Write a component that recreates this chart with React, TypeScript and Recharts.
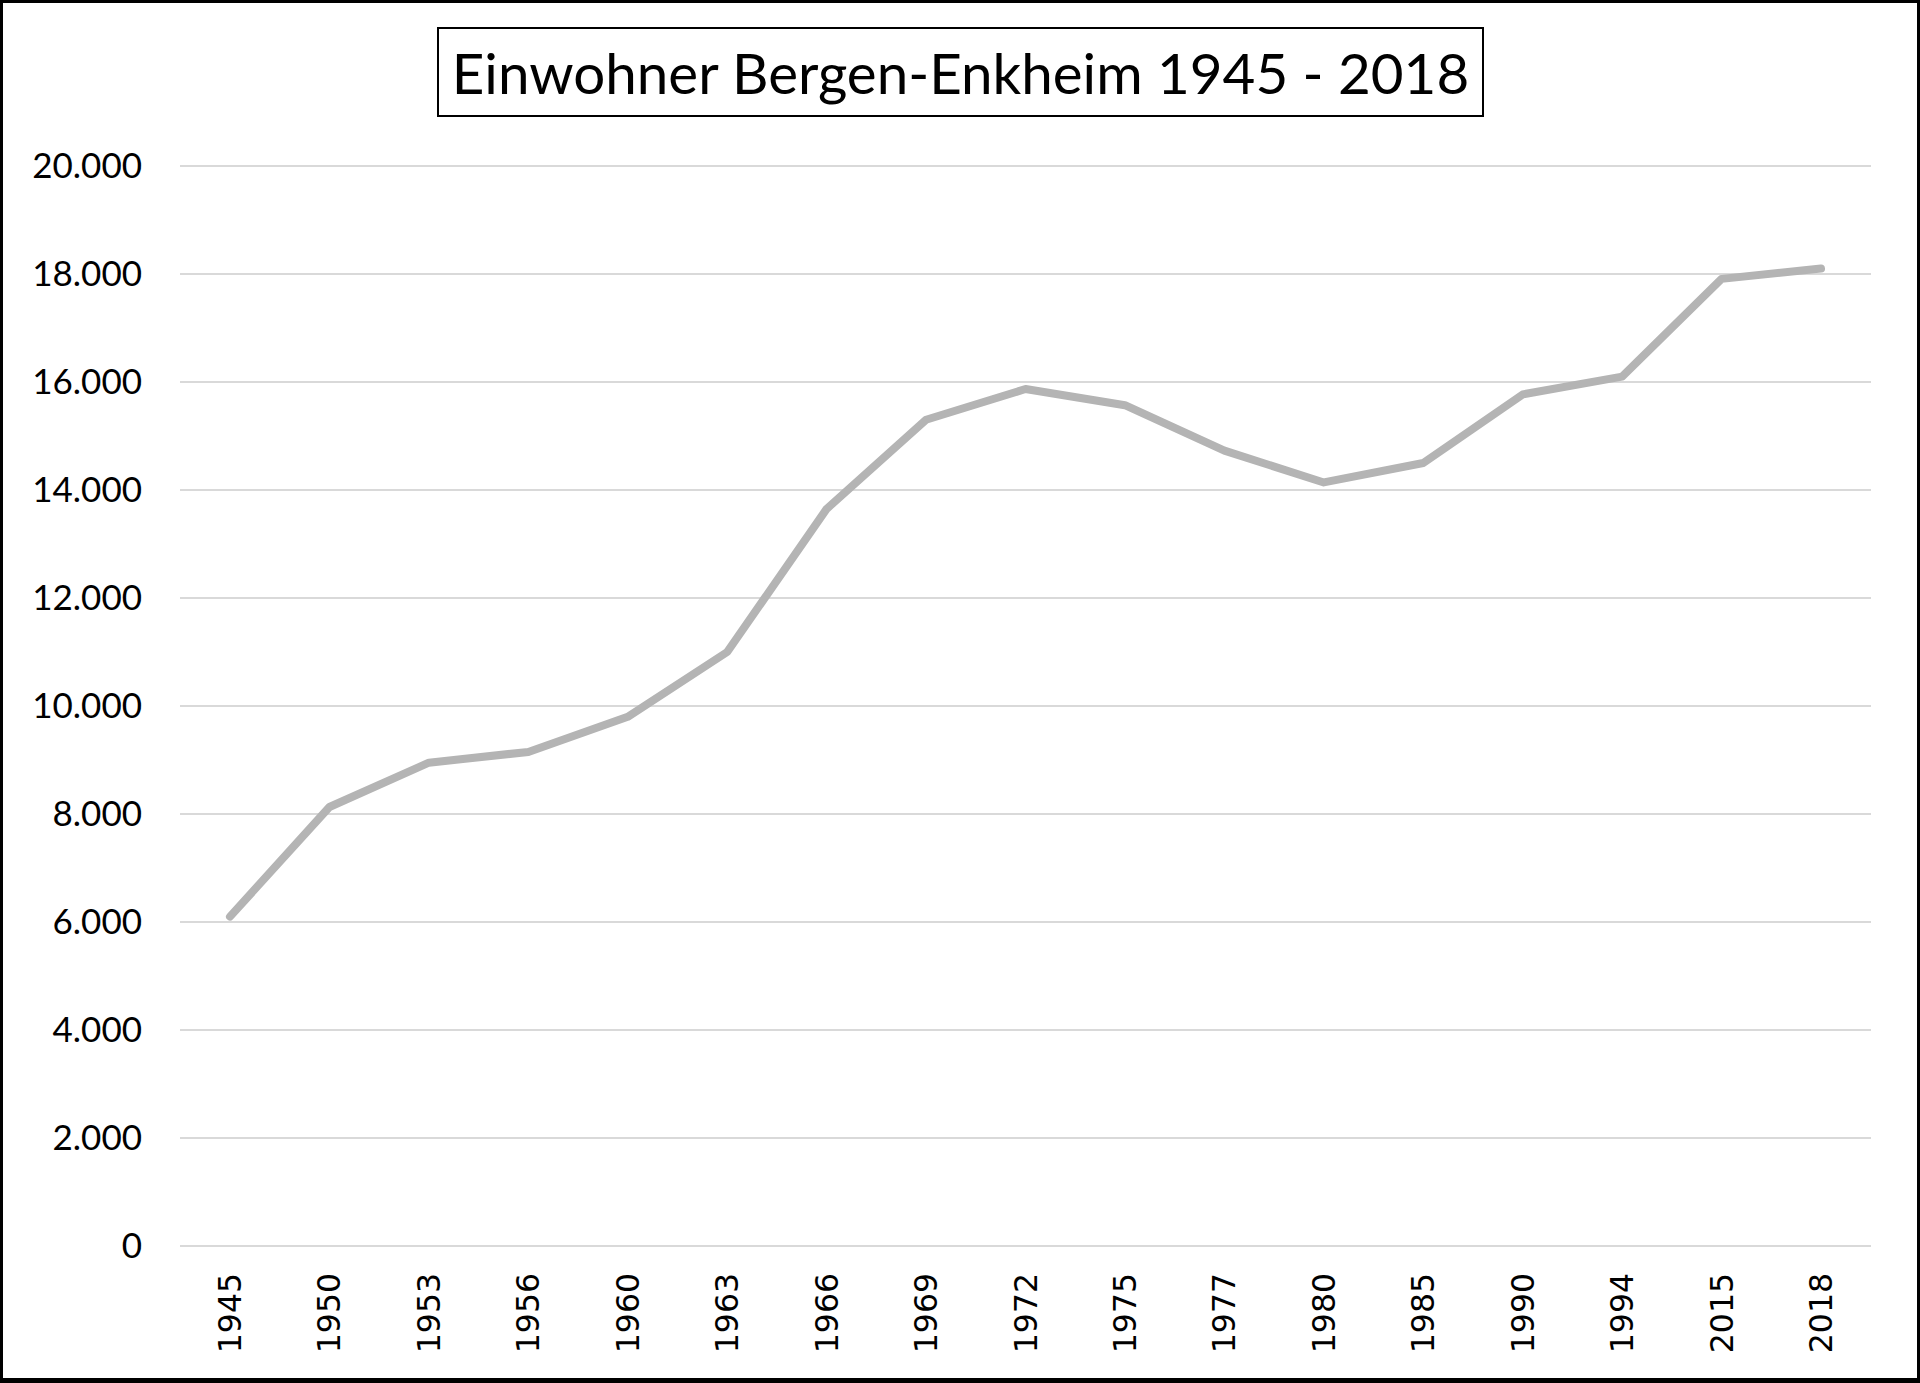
import React from 'react';
import { LineChart, Line, XAxis, YAxis, CartesianGrid } from 'recharts';

const years = ['1945', '1950', '1953', '1956', '1960', '1963', '1966', '1969', '1972', '1975', '1977', '1980', '1985', '1990', '1994', '2015', '2018'];
const residents = [6100, 8130, 8950, 9150, 9800, 11000, 13650, 15300, 15870, 15570, 14730, 14140, 14500, 15770, 16100, 17910, 18100];
const yTicks = [0, 2000, 4000, 6000, 8000, 10000, 12000, 14000, 16000, 18000, 20000];
const title = 'Einwohner Bergen-Enkheim 1945 - 2018';

const data = years.map((y, i) => ({ year: y, value: residents[i] }));

const fmt = (n: number) => String(n).replace(/\B(?=(\d{3})+(?!\d))/g, '.');

const XTick = (props: any) => {
  const { x, y, payload } = props;
  return (
    <text
      x={x}
      y={y}
      transform={`rotate(-90, ${x}, ${y})`}
      textAnchor="end"
      dominantBaseline="central"
      fontFamily="'DejaVu Sans', sans-serif"
      fontSize={31.5}
      fill="#000"
    >
      {payload.value}
    </text>
  );
};

export default function App() {
  return (
    <div
      style={{
        position: 'absolute',
        left: 0,
        top: 0,
        width: 1920,
        height: 1383,
        background: '#fff',
        boxSizing: 'border-box',
        borderStyle: 'solid',
        borderColor: '#000',
        borderWidth: '3px 3px 5px 3px',
      }}
    >
      <div style={{ position: 'absolute', left: -3, top: -3 }}>
        <LineChart width={1920} height={1383} data={data} margin={{ top: 166, right: 49, bottom: 0, left: 0 }}>
          <CartesianGrid vertical={false} stroke="#d9d9d9" strokeWidth={2} />
          <XAxis
            dataKey="year"
            axisLine={false}
            tickLine={false}
            tickSize={0}
            tickMargin={27}
            height={137}
            interval={0}
            padding={{ left: 50, right: 50 }}
            tick={<XTick />}
          />
          <YAxis
            domain={[0, 20000]}
            ticks={yTicks}
            axisLine={false}
            tickLine={false}
            tickSize={0}
            tickMargin={38}
            width={180}
            tickFormatter={fmt}
            tick={{ fontFamily: 'Lato, sans-serif', fontSize: 35, fill: '#000' }}
            interval={0}
          />
          <Line
            type="linear"
            dataKey="value"
            stroke="#b4b4b4"
            strokeWidth={8}
            strokeLinecap="round"
            strokeLinejoin="round"
            dot={false}
            isAnimationActive={false}
          />
        </LineChart>
      </div>
      <div
        style={{
          position: 'absolute',
          left: 437 - 3,
          top: 27 - 3,
          width: 1047,
          height: 90,
          boxSizing: 'border-box',
          border: '2px solid #000',
          display: 'flex',
          alignItems: 'center',
          justifyContent: 'center',
          fontFamily: 'Lato, sans-serif',
          fontSize: 56.5,
          color: '#000',
          background: '#fff',
          whiteSpace: 'nowrap',
        }}
      >
        {title}
      </div>
    </div>
  );
}
